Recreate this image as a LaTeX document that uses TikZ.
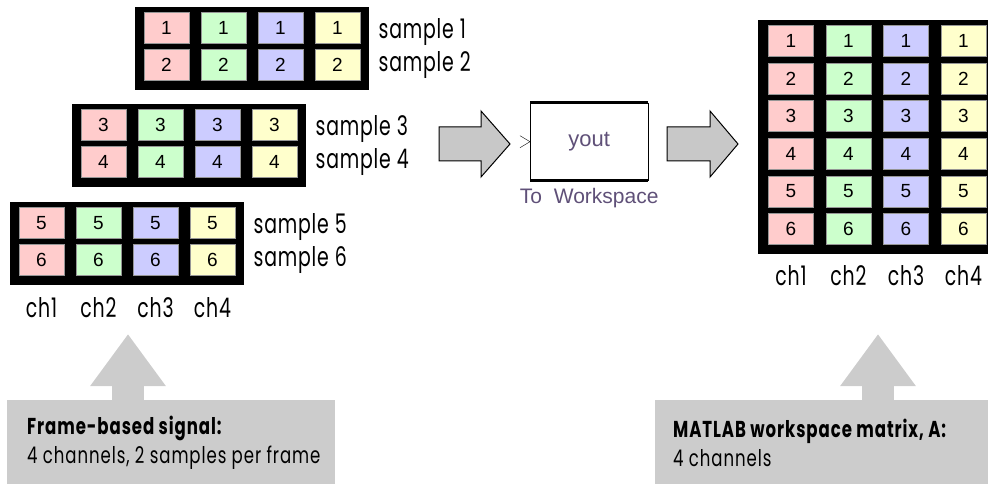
\documentclass[tikz,border=0pt]{standalone}
\usepackage{fontspec}
\setmainfont{Liberation Sans}
\newfontfamily\condfont[FakeStretch=0.7, LetterSpace=3]{Poppins}
\newfontfamily\notefont[FakeStretch=0.72, LetterSpace=4]{Poppins}
\usetikzlibrary{arrows.meta, positioning, calc}
\definecolor{CellRed}{RGB}{255,204,204}
\definecolor{CellGreen}{RGB}{204,255,204}
\definecolor{CellBlue}{RGB}{204,204,255}
\definecolor{CellYellow}{RGB}{255,255,204}
\definecolor{CellEdge}{RGB}{150,150,150}
\definecolor{NoteGray}{RGB}{204,204,204}
\definecolor{ArrowGray}{RGB}{200,200,200}
\definecolor{BlockText}{RGB}{95,80,120}

\tikzset{
  cell/.style={draw=CellEdge, line width=0.8pt, minimum width=45pt, minimum height=31pt,
               inner sep=0pt, font=\fontsize{19}{19}\selectfont},
  frame/.style={fill=black, anchor=north west, inner sep=0pt},
  samplelabel/.style={anchor=west, inner sep=0pt, font=\condfont\fontsize{27}{27}\selectfont},
  chlabel/.style={inner sep=0pt, font=\condfont\fontsize{27}{27}\selectfont},
  notebox/.style={fill=NoteGray, anchor=north west, inner sep=0pt, minimum height=86pt},
  notetext/.style={anchor=west, align=left, inner sep=0pt,
                   font=\notefont\fontsize{23}{29}\selectfont},
  uparrow/.style={draw=NoteGray, line width=32pt, -{Triangle[length=52pt, width=72pt]}},
  fatarrow/.style={fill=ArrowGray, draw=black, line width=1pt},
}

\begin{document}
\begin{tikzpicture}[x=1pt, y=-1pt]
  \useasboundingbox (0,0) rectangle (988,484);

  % frames of the input signal
  \foreach \f/\x/\y/\a in {A/135/7/1, B/72/104/3, C/10/202/5} {
    \pgfmathtruncatemacro\b{\a+1}
    \node[frame, minimum width=234pt, minimum height=83pt] (frame\f) at (\x,\y) {};
    \foreach \c [count=\i] in {CellRed, CellGreen, CellBlue, CellYellow} {
      \node[cell, fill=\c] (\f-\i-1) at (\x+31.5+57*\i-57, \y+21) {\a};
      \node[cell, fill=\c] (\f-\i-2) at (\x+31.5+57*\i-57, \y+58) {\b};
    }
    \node[samplelabel] (s\f-1) at ($(frame\f.north east)+(9,25)$) {sample \a};
    \node[samplelabel] (s\f-2) at ($(frame\f.north east)+(9,58)$) {sample \b};
  }
  \foreach \i in {1,...,4}
    \node[chlabel] (inch\i) at ($(C-\i-2)+(0,48)$) {ch\i};

  % To Workspace block
  \draw[fatarrow] (439,127) -- (481,127) -- (481,111) -- (510,144) -- (481,177)
    -- (481,161) -- (439,161) -- cycle;
  \node[draw, fill=white, anchor=north west, minimum width=118pt, minimum height=77pt,
        text=BlockText, font=\fontsize{22}{22}\selectfont] (yout) at (530,103) {yout};
  \draw[line width=3pt] (yout.north west) -- (yout.north east);
  \draw[line width=3pt] (yout.south west) -- (yout.south east);
  \draw ($(yout.west)+(-10,-6)$) -- (yout.west) -- ($(yout.west)+(-10,6)$);
  \node[text=BlockText, font=\fontsize{21}{21}\selectfont] (ws) at ($(yout.south)+(0,18)$)
    {To\ \ Workspace};
  \draw[fatarrow] (667,127) -- (710,127) -- (710,111) -- (738,144) -- (710,177)
    -- (710,161) -- (667,161) -- cycle;

  % workspace matrix
  \node[frame, minimum width=240pt, minimum height=234pt] (mat) at (758,20) {};
  \foreach \c [count=\i] in {CellRed, CellGreen, CellBlue, CellYellow} {
    \foreach \j in {1,...,6}
      \node[cell, fill=\c] (M-\i-\j) at (791+57.5*\i-57.5, 41+37.6*\j-37.6) {\j};
    \node[chlabel] (outch\i) at ($(M-\i-6)+(0,47)$) {ch\i};
  }

  % notes
  \node[notebox, minimum width=328pt] (lnote) at (7,400) {};
  \node[notetext] (ltext) at ($(lnote.west)+(20,0)$)
    {\textbf{Frame-based signal:}\\4 channels, 2 samples per frame};
  \node[notebox, minimum width=340pt] (rnote) at (655,400) {};
  \node[notetext] (rtext) at ($(rnote.west)+(18,0)$)
    {\textbf{MATLAB workspace matrix, A:}\\4 channels};
  \coordinate (ltip) at (128,334);
  \coordinate (rtip) at (878,334);
  \draw[uparrow] (lnote.north -| ltip) -- (ltip);
  \draw[uparrow] (rnote.north -| rtip) -- (rtip);
\end{tikzpicture}
\end{document}
